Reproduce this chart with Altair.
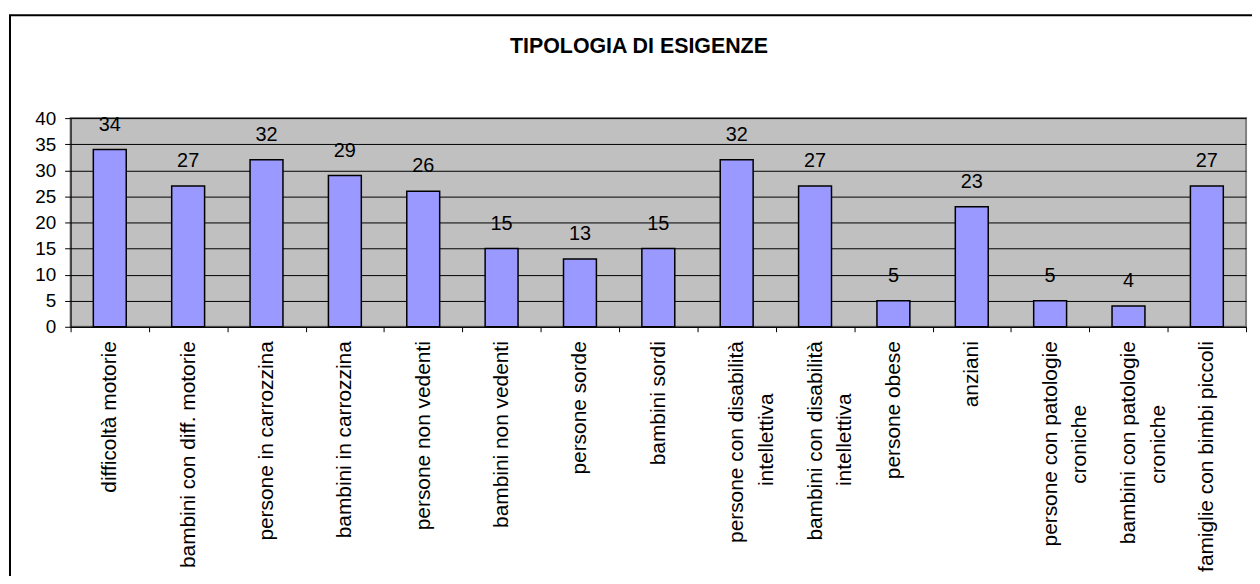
import altair as alt
import pandas as pd

TITLE = "TIPOLOGIA DI ESIGENZE"

CATEGORIES = [
    "difficoltà motorie",
    "bambini con diff. motorie",
    "persone in carrozzina",
    "bambini in carrozzina",
    "persone non vedenti",
    "bambini non vedenti",
    "persone sorde",
    "bambini sordi",
    "persone con disabilità\nintellettiva",
    "bambini con disabilità\nintellettiva",
    "persone obese",
    "anziani",
    "persone con patologie\ncroniche",
    "bambini con patologie\ncroniche",
    "famiglie con bimbi piccoli",
]
VALUES = [34, 27, 32, 29, 26, 15, 13, 15, 32, 27, 5, 23, 5, 4, 27]
Y_TICKS = [0, 5, 10, 15, 20, 25, 30, 35, 40]

# non-breaking spaces appended to the second line so it sits centred under the first
# (closed by a zero-width space so that the padding is not trimmed away)
LINE2_PAD = {8: 9, 9: 9, 12: 11, 13: 11}

labels = []
for i, c in enumerate(CATEGORIES):
    parts = c.split("\n")
    if len(parts) > 1:
        parts[1] = parts[1] + "\u00a0" * LINE2_PAD.get(i, 0) + "\u200b"
    labels.append("|".join(parts))

df = pd.DataFrame({"label": labels, "value": VALUES})

FONT = "Liberation Sans"

x_enc = alt.X(
    "label:N",
    sort=None,
    scale=alt.Scale(paddingInner=0, paddingOuter=0),
    axis=alt.Axis(
        title=None,
        labelAngle=270,
        labelAlign="right",
        labelBaseline="middle",
        labelExpr="split(datum.label, '|')",
        labelLineHeight=30,
        labelFontSize=21,
        labelLimit=400,
        labelPadding=9,
        labelColor="black",
        labelFont=FONT,
        tickBand="extent",
        tickSize=5,
        tickColor="black",
        domainColor="black",
        grid=False,
    ),
)
y_enc = alt.Y(
    "value:Q",
    scale=alt.Scale(domain=[0, 40], nice=False),
    axis=alt.Axis(
        title=None,
        values=Y_TICKS,
        grid=True,
        gridColor="black",
        gridWidth=1,
        domainColor="black",
        tickColor="black",
        tickSize=6,
        labelFontSize=19,
        labelColor="black",
        labelPadding=9,
        labelFont=FONT,
    ),
)

base = alt.Chart(df)

frame = alt.Chart(alt.Data(values=[{}])).mark_rect(
    fill="transparent", stroke="black", strokeWidth=2
).encode(
    x=alt.value(-61), x2=alt.value(1220), y=alt.value(-103.5), y2=alt.value(480)
)

title = alt.Chart(alt.Data(values=[{}])).mark_text(
    text=TITLE, fontSize=21.5, fontWeight="bold", font=FONT, align="center",
    baseline="alphabetic", color="black"
).encode(x=alt.value(572), y=alt.value(-66))

bars = base.mark_bar(
    width=alt.RelativeBandSize(0.42), fill="#9999FF", stroke="black", strokeWidth=1.5
).encode(x=x_enc, y=y_enc)

vals = base.mark_text(
    dy=-19, baseline="alphabetic", fontSize=20, font=FONT, color="black"
).encode(x=x_enc, y=y_enc, text="value:Q")

chart = alt.layer(frame, title, bars, vals).properties(
    width=1183,
    height=210,
    padding={"left": 63, "top": 109, "right": 6, "bottom": 249},
    autosize=alt.AutoSizeParams(type="none"),
    background="white",
).configure(
    font=FONT
).configure_view(
    fill="#C0C0C0", stroke="#808080", strokeWidth=2
)

chart.save("out.html", embed_options={"renderer": "svg", "actions": False})
